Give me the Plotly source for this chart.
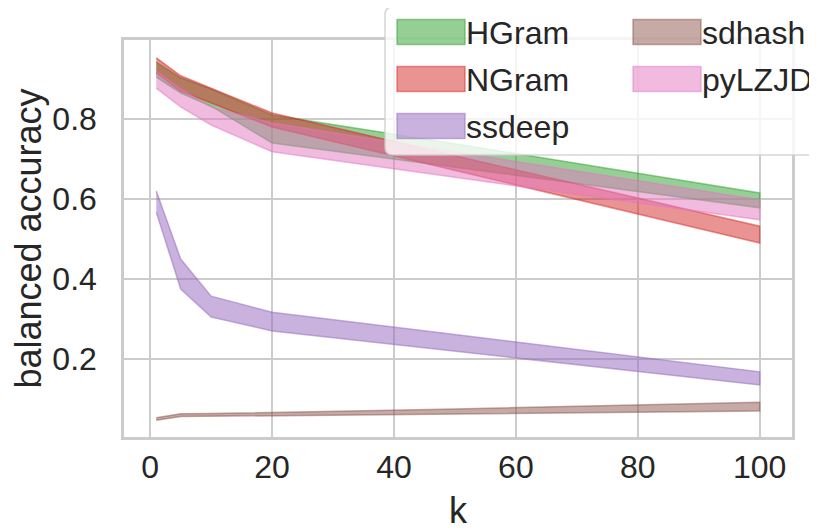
import plotly.graph_objects as go

# ---------------- data ----------------
k = [1, 5, 10, 20, 50, 100]

names = ["HGram", "NGram", "ssdeep", "sdhash", "pyLZJD"]
colors = ["44,160,44", "214,39,40", "148,103,189", "140,86,75", "227,119,194"]

hgram_lo = [0.905, 0.865, 0.832, 0.740, 0.679, 0.578]
hgram_hi = [0.942, 0.903, 0.875, 0.810, 0.738, 0.615]
ngram_lo = [0.915, 0.870, 0.840, 0.780, 0.672, 0.490]
ngram_hi = [0.953, 0.908, 0.877, 0.815, 0.708, 0.532]
ssdeep_lo = [0.567, 0.375, 0.305, 0.270, 0.219, 0.135]
ssdeep_hi = [0.620, 0.450, 0.357, 0.317, 0.261, 0.168]
sdhash_lo = [0.047, 0.056, 0.057, 0.059, 0.063, 0.070]
sdhash_hi = [0.053, 0.063, 0.064, 0.066, 0.075, 0.092]
pylzjd_lo = [0.877, 0.830, 0.785, 0.718, 0.654, 0.548]
pylzjd_hi = [0.920, 0.875, 0.830, 0.790, 0.718, 0.598]

x_ticks = [0, 20, 40, 60, 80, 100]
y_ticks = [0.2, 0.4, 0.6, 0.8]

bands = [
    (hgram_lo, hgram_hi),
    (ngram_lo, ngram_hi),
    (ssdeep_lo, ssdeep_hi),
    (sdhash_lo, sdhash_hi),
    (pylzjd_lo, pylzjd_hi),
]

# ---------------- layout constants ----------------
OFF = 8  # page body margin
W, H = 817 - OFF, 531 - OFF
ML, MT = 124 - OFF, 40 - OFF
MR = W - (792 - OFF)
MB = H - (437 - OFF)
PW, PH = W - ML - MR, H - MT - MB
FONT = "Liberation Sans, Arial, sans-serif"
TXT = "#262626"
GRID = "#cccccc"
FS = 32
FT = 36


def fx(px):  # reference page pixel -> paper x
    return (px - OFF - ML) / PW


def fy(py):  # reference page pixel -> paper y
    return (H - MB - (py - OFF)) / PH


fig = go.Figure()

for name, col, (lo, hi) in zip(names, colors, bands):
    fig.add_trace(go.Scatter(
        x=k + k[::-1],
        y=hi + lo[::-1],
        fill="toself",
        mode="lines",
        fillcolor=f"rgba({col},0.5)",
        line=dict(color=f"rgba({col},0.5)", width=1.5),
        name=name,
        showlegend=False,
        hoverinfo="skip",
    ))

# ---------------- legend (matplotlib-like box) ----------------
bx0, by0, bx1, by1, r = 385, 7, 840, 155, 8
path = (
    f"M {fx(bx0 + r)},{fy(by0)} L {fx(bx1 - r)},{fy(by0)} "
    f"Q {fx(bx1)},{fy(by0)} {fx(bx1)},{fy(by0 + r)} "
    f"L {fx(bx1)},{fy(by1 - r)} Q {fx(bx1)},{fy(by1)} {fx(bx1 - r)},{fy(by1)} "
    f"L {fx(bx0 + r)},{fy(by1)} Q {fx(bx0)},{fy(by1)} {fx(bx0)},{fy(by1 - r)} "
    f"L {fx(bx0)},{fy(by0 + r)} Q {fx(bx0)},{fy(by0)} {fx(bx0 + r)},{fy(by0)} Z"
)
shapes = [dict(type="path", path=path, xref="paper", yref="paper",
               fillcolor="rgba(255,255,255,0.8)",
               line=dict(color="rgba(204,204,204,0.8)", width=1.5), layer="above")]
annotations = []
col_x = [397, 633]
row_y = [32, 79, 126]
pw_, ph_ = 68, 25
for i, (name, col) in enumerate(zip(names, colors)):
    cx = col_x[i // 3]
    cy = row_y[i % 3]
    shapes.append(dict(type="rect", xref="paper", yref="paper",
                       x0=fx(cx), x1=fx(cx + pw_), y0=fy(cy - ph_ / 2), y1=fy(cy + ph_ / 2),
                       fillcolor=f"rgba({col},0.5)",
                       line=dict(color=f"rgba({col},0.5)", width=1.5), layer="above"))
    annotations.append(dict(text=name, xref="paper", yref="paper",
                            x=fx(cx + pw_ - 1), y=fy(cy + 1), xanchor="left", yanchor="middle",
                            showarrow=False, font=dict(size=32, color=TXT, family=FONT)))

fig.update_layout(
    width=W, height=H,
    margin=dict(l=ML, r=MR, t=MT, b=MB, pad=0, autoexpand=False),
    paper_bgcolor="white", plot_bgcolor="white",
    font=dict(family=FONT, size=FS, color=TXT),
    showlegend=False,
    shapes=shapes,
    annotations=annotations,
    xaxis=dict(
        range=[-4.3, 105.3], tickvals=x_ticks, ticktext=[str(v) for v in x_ticks],
        showgrid=True, gridcolor=GRID, gridwidth=2,
        showline=True, mirror=True, linecolor=GRID, linewidth=2.5,
        zeroline=False, ticks="", ticklabelstandoff=0, automargin=False,
        tickfont=dict(size=FS, color=TXT),
        title=dict(text="k", font=dict(size=FT, color=TXT), standoff=22),
    ),
    yaxis=dict(
        range=[0.005, 0.9975], tickvals=y_ticks, ticktext=[f"{v:.1f}" for v in y_ticks],
        showgrid=True, gridcolor=GRID, gridwidth=2,
        showline=True, mirror=True, linecolor=GRID, linewidth=2.5,
        zeroline=False, ticks="", ticklabelstandoff=18, automargin=False,
        tickfont=dict(size=FS, color=TXT),
        title=dict(text="balanced accuracy", font=dict(size=FT, color=TXT), standoff=6),
    ),
)

fig.write_html("out.html")
